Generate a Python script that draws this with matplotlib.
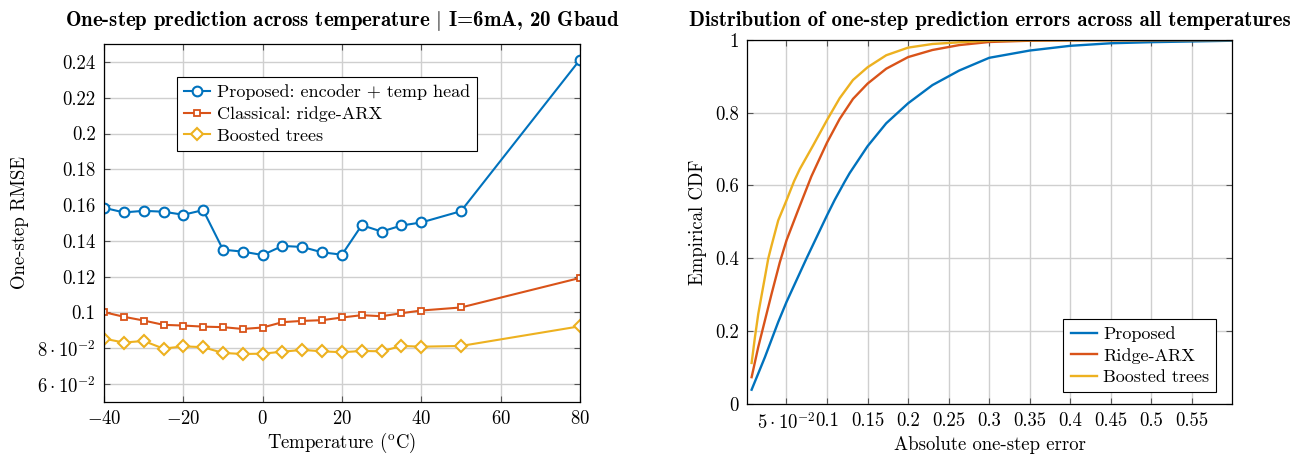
#!/usr/bin/env python3
# plot.py - one-step prediction RMSE vs temperature, plus error CDFs

import matplotlib
matplotlib.use("Agg")
import matplotlib.pyplot as plt

# ====== DATA ======
temps    = [-40, -35, -30, -25, -20, -15, -10, -5, 0, 5, 10, 15, 20, 25, 30, 35, 40, 50, 80]
proposed = [0.1585, 0.1559, 0.1568, 0.1563, 0.1546, 0.1572, 0.1351, 0.1340, 0.1321, 0.1372,
            0.1366, 0.1336, 0.1323, 0.1488, 0.1452, 0.1486, 0.1503, 0.1566, 0.2412]
ridge    = [0.1002, 0.0976, 0.0955, 0.0931, 0.0927, 0.0921, 0.0918, 0.0908, 0.0916, 0.0946,
            0.0953, 0.0957, 0.0972, 0.0985, 0.0979, 0.0996, 0.1011, 0.1028, 0.1193]
boosted  = [0.0854, 0.0832, 0.0841, 0.0798, 0.0811, 0.0806, 0.0774, 0.0768, 0.0770, 0.0781,
            0.0791, 0.0783, 0.0778, 0.0785, 0.0783, 0.0813, 0.0809, 0.0813, 0.0923]

# empirical CDF of absolute one-step error, per model
err_prop = [0.007, 0.0234, 0.0398, 0.05, 0.0746, 0.10, 0.1094, 0.1217, 0.1279, 0.15, 0.173,
            0.20, 0.23, 0.263, 0.30, 0.35, 0.40, 0.45, 0.50, 0.55, 0.60]
cdf_prop = [0.0385, 0.128, 0.2246, 0.2796, 0.399, 0.518, 0.560, 0.610, 0.634, 0.708, 0.771,
            0.826, 0.876, 0.916, 0.951, 0.971, 0.984, 0.991, 0.994, 0.996, 0.998]
err_ridge = [0.007, 0.0152, 0.0234, 0.0316, 0.0418, 0.05, 0.0643, 0.0807, 0.10, 0.1156,
             0.132, 0.15, 0.173, 0.20, 0.23, 0.263, 0.30, 0.35, 0.40, 0.60]
cdf_ridge = [0.073, 0.156, 0.229, 0.302, 0.389, 0.449, 0.532, 0.625, 0.718, 0.783,
             0.838, 0.880, 0.921, 0.953, 0.9725, 0.986, 0.9945, 0.998, 0.999, 1.0]
err_boost = [0.007, 0.0111, 0.0152, 0.0193, 0.0234, 0.0275, 0.0316, 0.0398, 0.05, 0.0594,
             0.0664, 0.0828, 0.10, 0.1156, 0.132, 0.15, 0.173, 0.20, 0.23, 0.263, 0.30,
             0.35, 0.60]
cdf_boost = [0.112, 0.183, 0.247, 0.298, 0.348, 0.399, 0.435, 0.504, 0.559, 0.612,
             0.645, 0.710, 0.780, 0.840, 0.890, 0.925, 0.958, 0.979, 0.989, 0.9936, 0.998,
             0.9995, 1.0]

temp_ticks = [-40, -20, 0, 20, 40, 60, 80]
rmse_ticks = [0.06, 0.08, 0.10, 0.12, 0.14, 0.16, 0.18, 0.20, 0.22, 0.24]
rmse_labels = [r"$6\cdot10^{-2}$", r"$8\cdot10^{-2}$", "0.1", "0.12", "0.14", "0.16",
               "0.18", "0.2", "0.22", "0.24"]
err_ticks = [0.05, 0.10, 0.15, 0.20, 0.25, 0.30, 0.35, 0.40, 0.45, 0.50, 0.55]
err_labels = [r"$5\cdot10^{-2}$", "0.1", "0.15", "0.2", "0.25", "0.3", "0.35", "0.4",
              "0.45", "0.5", "0.55"]
cdf_ticks = [0, 0.2, 0.4, 0.6, 0.8, 1.0]
cdf_labels = ["0", "0.2", "0.4", "0.6", "0.8", "1"]

# ====== STYLE ======
BLUE   = "#0072BD"
ORANGE = "#D95319"
YELLOW = "#EDB120"
GRIDC  = "#cfcfcf"
FS     = 13.5
FS_LEG = 13
FS_TTL = 15

plt.rcParams["font.family"] = "serif"
plt.rcParams["font.serif"] = ["cmr10"]
plt.rcParams["mathtext.fontset"] = "cm"
plt.rcParams["axes.unicode_minus"] = False
plt.rcParams["axes.formatter.use_mathtext"] = True


def style_axes(ax):
    ax.grid(True, color=GRIDC, linewidth=1.0)
    ax.set_axisbelow(True)
    ax.tick_params(direction="in", top=True, right=True, length=4, width=0.8,
                   color="#555555", labelsize=FS, pad=6)
    for s in ax.spines.values():
        s.set_linewidth(0.9)
        s.set_color("black")


def legend(ax, **kw):
    lg = ax.legend(fontsize=FS_LEG, fancybox=False, edgecolor="black", framealpha=1,
                   borderaxespad=0, handlelength=1.45, handletextpad=0.35,
                   borderpad=0.4, labelspacing=0.33, **kw)
    lg.get_frame().set_linewidth(0.8)
    return lg


fig = plt.figure(figsize=(13.05, 4.57), dpi=100)
ax1 = fig.add_axes([0.0797, 0.1204, 0.3647, 0.7833])
ax2 = fig.add_axes([0.5726, 0.1166, 0.3718, 0.7959])

# ---------- left: RMSE across temperature ----------
ax1.plot(temps, proposed, color=BLUE, lw=1.5, marker="o", ms=7, mfc="white", mew=1.5,
         label="Proposed: encoder + temp head")
ax1.plot(temps, ridge, color=ORANGE, lw=1.5, marker="s", ms=4.5, mfc="white", mew=1.3,
         label="Classical: ridge-ARX")
ax1.plot(temps, boosted, color=YELLOW, lw=1.5, marker="D", ms=6.5, mfc="white", mew=1.5,
         label="Boosted trees")
ax1.set_xlim(-40, 80)
ax1.set_ylim(0.05, 0.25)
ax1.set_xticks(temp_ticks)
ax1.set_xticklabels([rf"${t}$" for t in temp_ticks])
ax1.set_yticks(rmse_ticks)
ax1.set_yticklabels(rmse_labels)
style_axes(ax1)
ax1.set_xlabel(r"Temperature ($^{\rm o}$C)", fontsize=FS, labelpad=2)
ax1.set_ylabel("One-step RMSE", fontsize=FS, labelpad=6)
ax1.set_title(r"One-step prediction across temperature $|$ I=6mA, 20 Gbaud",
              fontsize=FS_TTL, family="cmb10", pad=13)
legend(ax1, loc="upper left", bbox_to_anchor=(0.153, 0.907))

# ---------- right: CDF of errors ----------
ax2.plot(err_prop, cdf_prop, color=BLUE, lw=1.7, label="Proposed")
ax2.plot(err_ridge, cdf_ridge, color=ORANGE, lw=1.7, label="Ridge-ARX")
ax2.plot(err_boost, cdf_boost, color=YELLOW, lw=1.7, label="Boosted trees")
ax2.set_xlim(0.0016, 0.6)
ax2.set_ylim(0, 1)
ax2.set_xticks(err_ticks)
ax2.set_xticklabels(err_labels)
ax2.set_yticks(cdf_ticks)
ax2.set_yticklabels(cdf_labels)
style_axes(ax2)
ax2.set_xlabel("Absolute one-step error", fontsize=FS, labelpad=2)
ax2.set_ylabel("Empirical CDF", fontsize=FS, labelpad=6)
ax2.set_title("Distribution of one-step prediction errors across all temperatures",
              fontsize=FS_TTL, family="cmb10", pad=10)
legend(ax2, loc="lower right", bbox_to_anchor=(0.967, 0.031))

fig.savefig("out.png", dpi=100)
